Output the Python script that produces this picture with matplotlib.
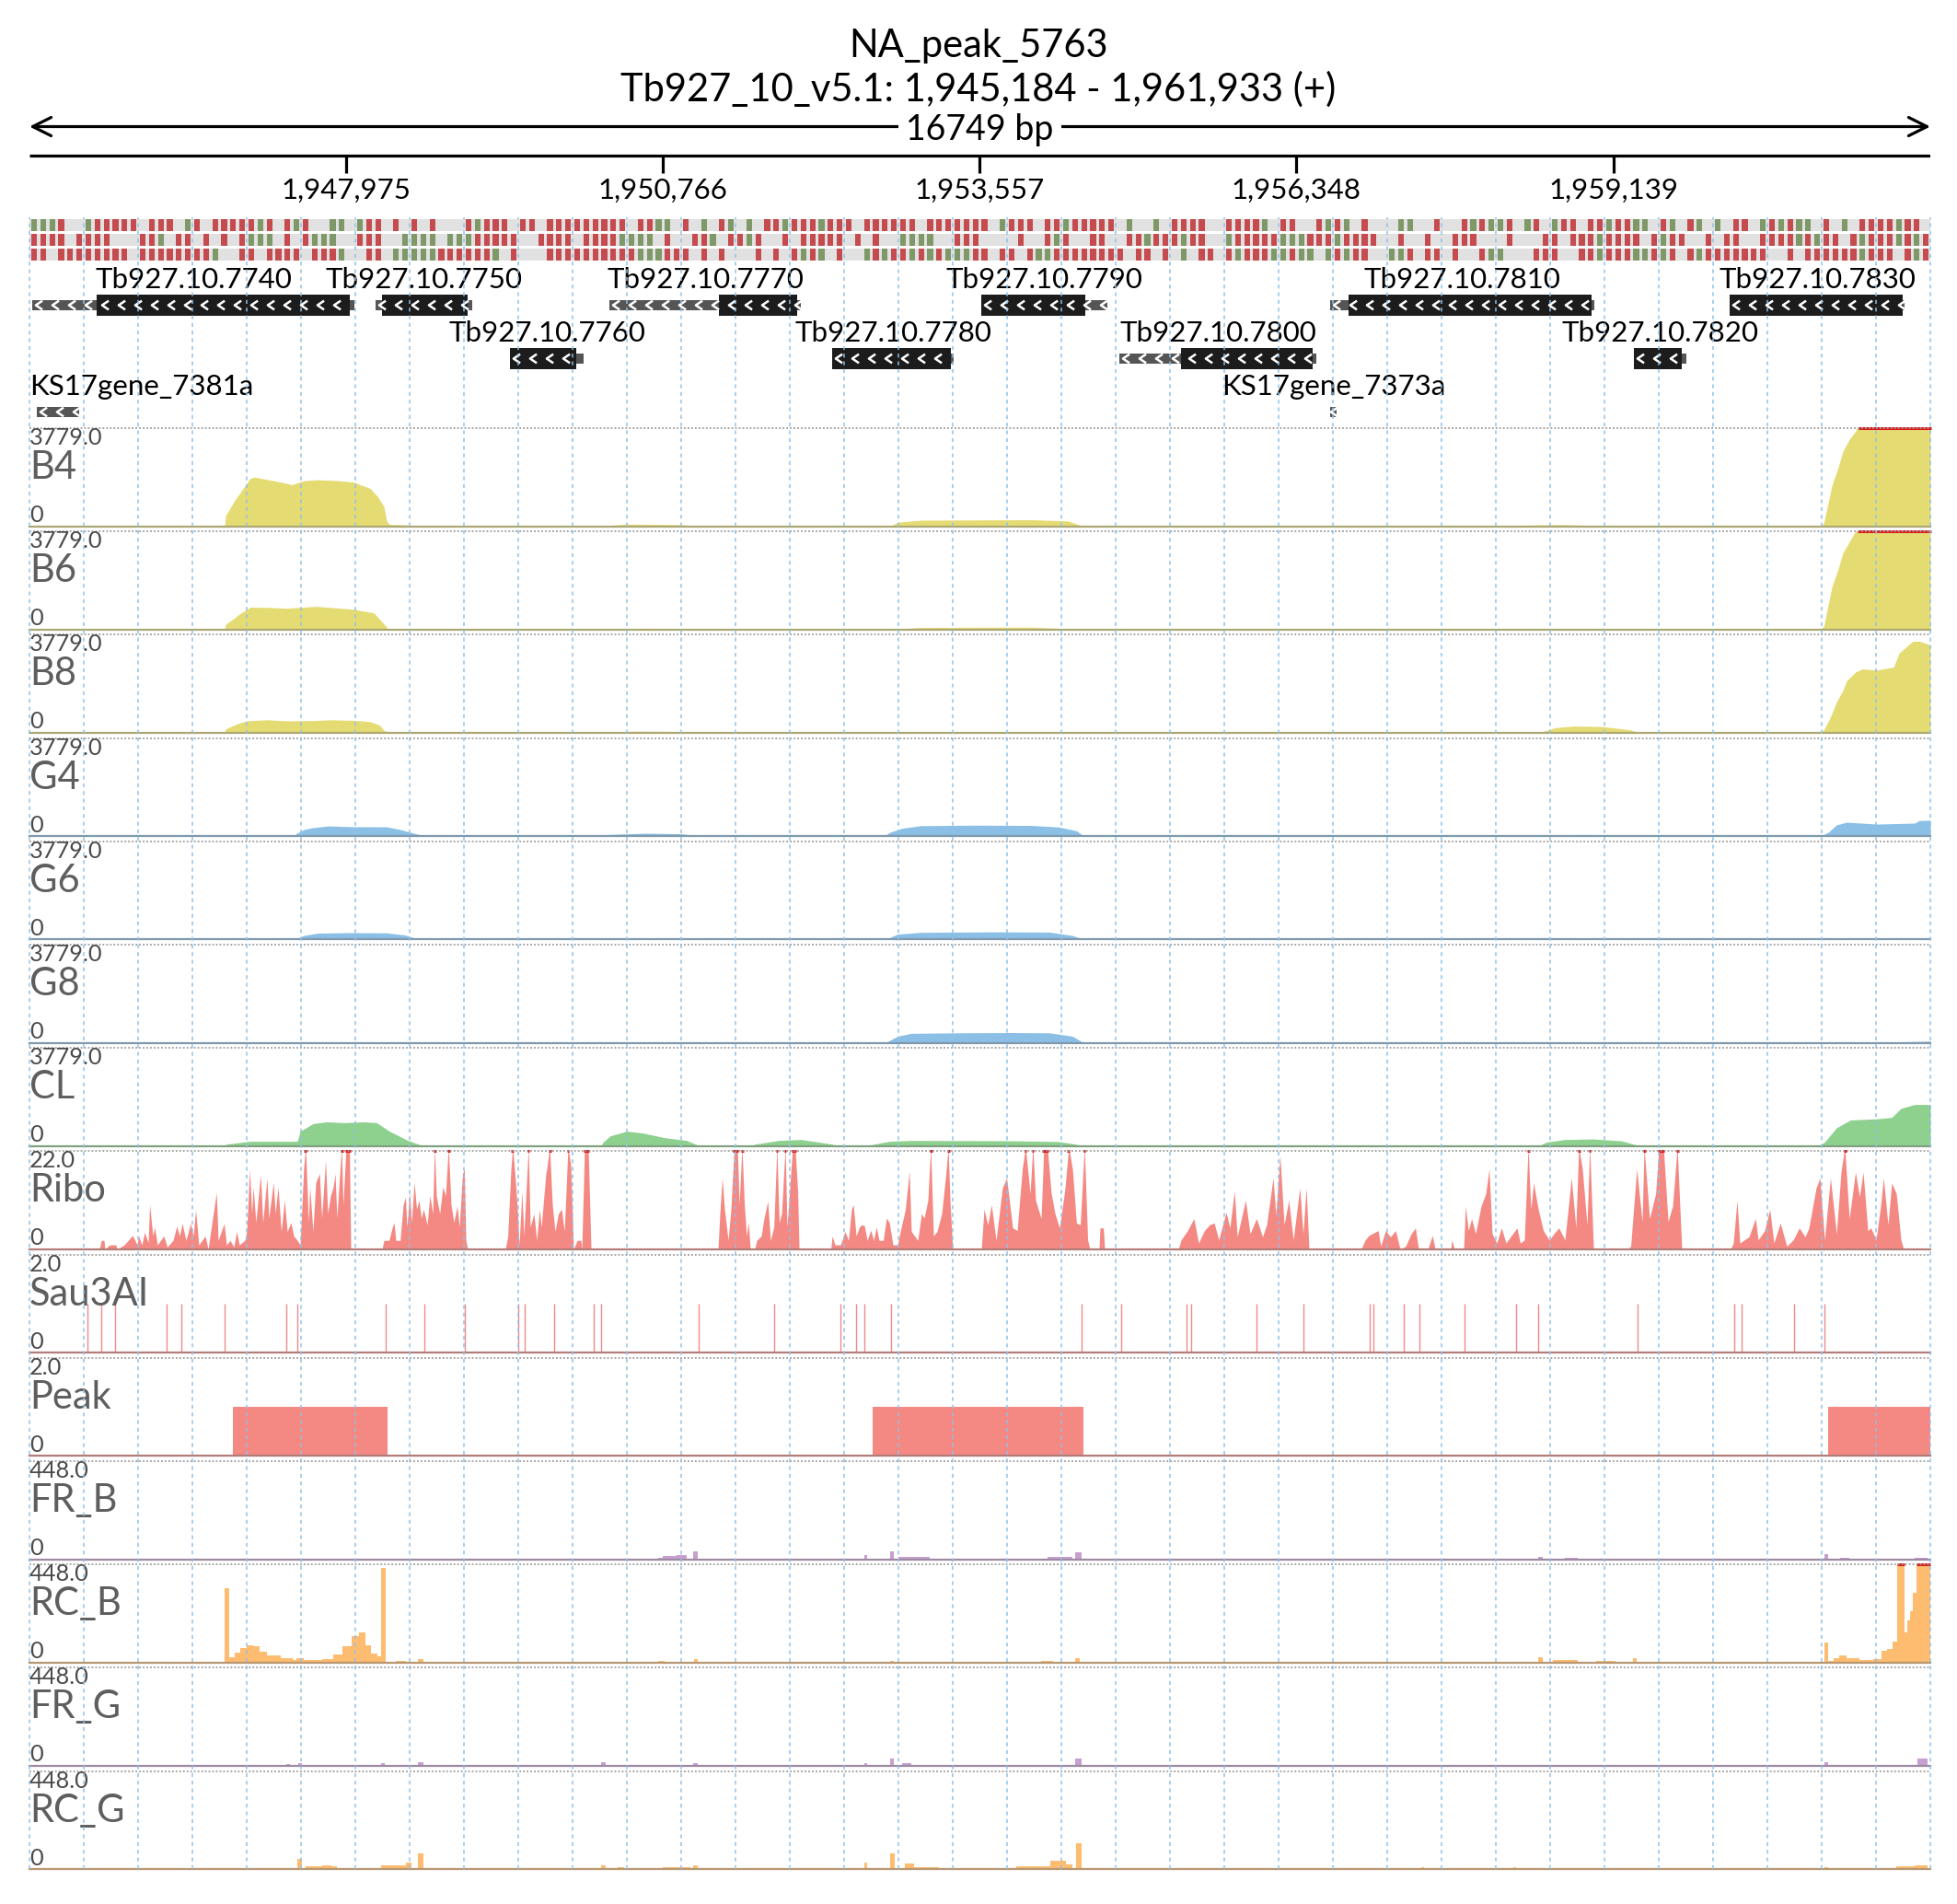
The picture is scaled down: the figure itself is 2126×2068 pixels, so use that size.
import matplotlib
matplotlib.use("Agg")
import matplotlib.pyplot as plt
import matplotlib.colors as mcolors
from matplotlib.path import Path
import numpy as np

plt.rcParams['font.family'] = ['Lato', 'DejaVu Sans']

# ---------------------------------------------------------------- data
PEAK_NAME = "NA_peak_5763"
CHROM = "Tb927_10_v5.1"
START, END = 1945184, 1961933
ruler_ticks = [1947975, 1950766, 1953557, 1956348, 1959139]

# genes: positions are bp offsets from START
gene_names = ["Tb927.10.7740", "Tb927.10.7750", "Tb927.10.7760", "Tb927.10.7770",
              "Tb927.10.7780", "Tb927.10.7790", "Tb927.10.7800", "Tb927.10.7810",
              "Tb927.10.7820", "Tb927.10.7830", "KS17gene_7381a", "KS17gene_7373a"]
gene_row = [1, 1, 2, 1, 2, 1, 2, 1, 2, 1, 3, 3]
gene_start = [24, 3050, 4234, 5110, 7073, 8387, 9603, 11461, 14137, 14981, 65, 11461]
gene_end = [2863, 3901, 4883, 6797, 8143, 9498, 11339, 13789, 14600, 16522, 438, 11518]
cds_start = [592, 3107, 4234, 6075, 7073, 8387, 10147, 11623, 14137, 14981, None, None]
cds_end = [2823, 3861, 4818, 6765, 8119, 9303, 11307, 13764, 14559, 16506, None, None]

# three frame strips, one char per 1/210 of the window (r = red, g = green)
frame_rows = [
    "gggr..grrrrr.rrr.gr.rrrrrgr.rgr..gg.grr.r.r.r...rgrrr.rr.rrrrrrrrr.r"
    "rgg.r.g.rg.g.rrgrrrgrrr.rrrrrr.rrrrrrr.grrr.rrgrrrrr.g..g.rrrr..rrrrg.r"
    "r..rgrg.r...gg..r..rgrggr.gr.grr.rrgrrgg.rg.rg.g.rr.grgrgg.r.g.rrrrgrr.",
    "rrrr.rrrr...rrg.rr.r.r.rggg.r.rggg..rrr..gggg.gggrrrrr..rrrr.rrrrggg"
    "g.r..rrg.rrgr..r.rrrrr.r.r..gggg..rrr....r..rgr..rr..rrgrrrgrr..grrrrrg"
    "ggrrrgrrrr..r..r..rrr...r...rr.rrrgrrrr.rgrr..r.rr..rrrrgrgrr.rgrrrgrgr",
    "rr.rrrrrrrr.rrrrrrrrg..rr.rrrr.rrrg..rr.gggggrrrrrrg.r...rrrrrrrrrrg"
    "ggrrr.r.r...r.r.rgrg.r..grgrrgrgrgggrr.rr.rggrrrrrrrr.rr.r.g.rr.rgrrrgg"
    "rgg.grgrr..ggr.rr.r..rgg...rrr..rrgrrrggrgr.rgrrrrrrr..r.rrrrrrgrrr.rgr",
]

# coverage profiles: (bp offset, value)
b4 = [(1720, 0), (1728, 400), (1809, 1000), (1890, 1500), (1947, 1850), (1987, 1890), (2093, 1800),
      (2214, 1700), (2312, 1600), (2417, 1750), (2531, 1790), (2701, 1760), (2855, 1700), (2944, 1550),
      (3001, 1460), (3066, 1150), (3123, 750), (3147, 200), (3171, 70), (3309, 50), (3472, 20), (3512, 0),
      (5021, 0), (5256, 80), (5743, 60), (5905, 0),
      (7584, 0), (7649, 150), (7852, 230), (8338, 240), (8825, 250), (9149, 200), (9287, 0),
      (12718, 0), (13294, 50), (13529, 60), (13724, 30), (14251, 30), (14503, 40), (14697, 20), (15152, 0),
      (15760, 0), (15809, 100), (15882, 1570), (15938, 2280), (15979, 2890), (16036, 3350), (16092, 3670),
      (16125, 4000), (16749, 4000)]
b6 = [(1720, 0), (1728, 200), (1809, 450), (1841, 570), (1947, 860), (2093, 850), (2271, 820), (2531, 890),
      (2855, 780), (3034, 640), (3123, 214), (3163, 0),
      (5021, 0), (5418, 50), (5905, 0), (7584, 0), (7852, 80), (8825, 90), (9287, 0),
      (12718, 0), (13529, 25), (14697, 0),
      (15760, 0), (15809, 100), (15882, 1640), (15938, 2350), (15979, 2960), (16060, 3560),
      (16117, 4000), (16749, 4000)]
b8 = [(1720, 0), (1728, 150), (1833, 350), (1914, 460), (2093, 500), (2271, 460), (2498, 470), (2636, 500),
      (2855, 480), (3001, 430), (3082, 300), (3123, 100), (3163, 0),
      (5021, 0), (5337, 60), (5743, 50), (5905, 0), (6270, 0), (6473, 20), (6635, 0),
      (7584, 0), (8257, 30), (9287, 0),
      (13294, 0), (13448, 200), (13610, 260), (13854, 240), (14097, 120), (14194, 0),
      (15760, 0), (15809, 100), (15865, 570), (15922, 1180), (15979, 1640), (16011, 2000), (16092, 2350),
      (16149, 2460), (16279, 2420), (16425, 2530), (16474, 3070), (16539, 3320), (16595, 3530),
      (16652, 3530), (16749, 3390)]
g4 = [(1444, 0), (1768, 20), (2336, 30), (2352, 100), (2417, 250), (2490, 321), (2636, 390), (2855, 360),
      (3147, 357), (3269, 250), (3358, 143), (3488, 0),
      (4932, 0), (5094, 60), (5418, 110), (5743, 90), (5905, 0),
      (7527, 0), (7584, 150), (7689, 300), (7852, 400), (8338, 420), (8825, 410), (9068, 350),
      (9230, 200), (9287, 0),
      (10123, 0), (11096, 15), (12718, 20), (13351, 40), (13692, 60), (14024, 40), (14340, 0),
      (15760, 0), (15809, 60), (15849, 143), (15922, 430), (16011, 535), (16279, 463), (16612, 500),
      (16652, 600), (16749, 610)]
g6 = [(2336, 0), (2417, 150), (2539, 240), (2823, 260), (3147, 250), (3309, 170), (3431, 0),
      (5013, 0), (5418, 40), (5905, 0),
      (7543, 0), (7649, 200), (7852, 270), (8500, 290), (8987, 280), (9190, 150), (9287, 0),
      (12232, 0), (12556, 50), (12962, 0),
      (15800, 0), (15963, 30), (16749, 40)]
g8 = [(2336, 0), (2823, 30), (3431, 0), (5013, 0), (5418, 30), (5905, 0),
      (7543, 0), (7649, 250), (7770, 360), (8176, 380), (8663, 390), (8987, 380), (9190, 250), (9287, 0),
      (15800, 0), (16449, 30), (16749, 60)]
cl = [(1711, 0), (1736, 70), (1939, 180), (2360, 180), (2385, 570), (2498, 860), (2612, 930), (2774, 900),
      (2944, 930), (3058, 900), (3171, 570), (3334, 214), (3472, 0),
      (5037, 0), (5053, 143), (5118, 392), (5264, 570), (5402, 500), (5597, 320), (5791, 214), (5905, 0),
      (6367, 0), (6392, 70), (6602, 214), (6797, 250), (7073, 71), (7130, 0),
      (7357, 0), (7576, 180), (7770, 214), (8663, 200), (9068, 170), (9230, 60), (9287, 0),
      (10934, 0), (11096, 30), (11218, 0),
      (13294, 0), (13367, 150), (13529, 250), (13773, 270), (14024, 200), (14194, 0),
      (15760, 0), (15817, 150), (15922, 700), (16044, 1000), (16287, 1050), (16409, 1100), (16490, 1450),
      (16612, 1600), (16749, 1600)]

# ribosome profiling (values above 22 are clipped)
ribo = [(616, 0), (633, 2), (657, 2), (665, 0), (706, 1), (762, 1), (771, 0),
        (835, 1), (908, 3.1), (949, 1), (961, 3), (990, 1), (1014, 3.8), (1046, 1.5), (1059, 10), (1087, 3),
        (1103, 5), (1127, 1), (1184, 3), (1213, 0.5), (1265, 2), (1298, 5.2), (1322, 3), (1346, 5.8),
        (1379, 2), (1419, 5.8), (1444, 3), (1464, 8.9), (1492, 1), (1549, 3), (1574, 0), (1647, 12.7),
        (1663, 2), (1715, 5.8), (1736, 1), (1768, 2), (1801, 0.5), (1825, 4), (1849, 1), (1898, 2),
        (1914, 4), (1939, 17.9), (1959, 8), (1971, 14), (1995, 6), (2036, 16.8), (2056, 6), (2093, 16),
        (2109, 7), (2149, 15), (2166, 8), (2190, 14), (2218, 4), (2247, 11), (2271, 4), (2304, 6),
        (2328, 3), (2360, 2), (2385, 1), (2417, 18.6), (2433, 23), (2458, 6), (2470, 14), (2498, 4),
        (2523, 15), (2555, 17), (2575, 7), (2609, 20), (2628, 8), (2652, 12), (2677, 14), (2693, 17),
        (2709, 7), (2733, 16.5), (2750, 23), (2763, 10), (2790, 23), (2819, 23), (2831, 0),
        (3107, 0), (3123, 2), (3168, 2), (3196, 4.8), (3212, 6), (3228, 2), (3266, 2), (3293, 10),
        (3313, 11.7), (3326, 5), (3350, 13), (3366, 6), (3390, 15), (3411, 9), (3431, 11), (3453, 7),
        (3472, 9), (3504, 5.5), (3528, 12), (3553, 8), (3569, 23), (3585, 12), (3615, 8), (3642, 14),
        (3666, 12), (3691, 23), (3715, 10), (3739, 6), (3768, 9.7), (3788, 5), (3816, 17), (3832, 18),
        (3845, 2), (3861, 0),
        (4193, 0), (4215, 3), (4242, 18), (4258, 23), (4283, 15), (4299, 9), (4315, 1), (4339, 13),
        (4356, 3), (4396, 23), (4412, 5), (4445, 8), (4469, 2), (4494, 9), (4510, 5), (4550, 17),
        (4558, 18), (4583, 23), (4607, 10), (4631, 4), (4660, 8), (4688, 9), (4713, 4), (4745, 23),
        (4769, 19), (4794, 0), (4826, 2), (4858, 2), (4867, 0), (4891, 23), (4923, 23), (4948, 0),
        (6067, 0), (6083, 8), (6104, 16), (6124, 9), (6156, 2), (6181, 9), (6210, 23), (6237, 23),
        (6254, 10), (6278, 23), (6299, 10), (6318, 3), (6335, 6), (6351, 0),
        (6391, 0), (6408, 2), (6448, 3), (6473, 7), (6505, 10.8), (6529, 2), (6559, 5), (6586, 23),
        (6606, 6), (6627, 8), (6659, 23), (6675, 5), (6700, 14), (6724, 23), (6746, 23), (6769, 13),
        (6781, 0),
        (7061, 0), (7073, 3), (7097, 1), (7146, 1), (7186, 4), (7216, 2), (7243, 9), (7259, 10),
        (7284, 3), (7313, 5), (7332, 5.5), (7357, 5.3), (7381, 2), (7413, 4.3), (7438, 2), (7462, 5),
        (7486, 2), (7523, 2), (7551, 7), (7576, 6), (7608, 1), (7649, 1), (7673, 4), (7718, 9),
        (7752, 17.5), (7770, 4), (7827, 2), (7860, 8), (7884, 7), (7916, 11), (7941, 23), (7965, 3),
        (7997, 4), (8038, 8), (8075, 17), (8095, 23), (8111, 11), (8135, 0),
        (8387, 0), (8411, 9), (8444, 5.5), (8476, 10), (8517, 2), (8573, 13.8), (8610, 16), (8663, 4.8),
        (8703, 4.2), (8748, 18), (8776, 23), (8817, 12.5), (8841, 23), (8865, 11), (8914, 6.9),
        (8938, 23), (8968, 23), (9003, 12.5), (9036, 8), (9076, 4.8), (9122, 13.1), (9157, 23),
        (9190, 18), (9225, 5.9), (9259, 5.5), (9295, 23), (9324, 2.1), (9344, 0), (9425, 0),
        (9433, 4.8), (9462, 4.8), (9474, 0),
        (10123, 0), (10147, 2.1), (10204, 4.2), (10260, 6.9), (10301, 1.4), (10353, 4.2), (10398, 5.5),
        (10439, 5.9), (10479, 2.1), (10544, 8.3), (10577, 4.8), (10617, 13.1), (10642, 2.8), (10715, 11),
        (10755, 3.5), (10812, 6.9), (10865, 2.8), (10901, 5.5), (10958, 16), (10982, 7.6), (11019, 21.1),
        (11055, 5.5), (11096, 11), (11136, 2.1), (11193, 13.8), (11222, 3.5), (11250, 13.8), (11274, 0),
        (11733, 0), (11769, 2.1), (11802, 3.1), (11883, 4.2), (11907, 0.7), (11948, 4.2), (11992, 2.8),
        (12037, 4.2), (12077, 0), (12126, 0.7), (12175, 3.5), (12212, 4.8), (12240, 0), (12321, 0),
        (12361, 3.1), (12386, 0),
        (12523, 0), (12532, 2.1), (12556, 0), (12637, 0), (12653, 9.7), (12678, 4.2), (12707, 6.9),
        (12742, 3.5), (12791, 9.7), (12832, 12.5), (12861, 18), (12888, 3.5), (12929, 1.4), (12970, 4.8),
        (13010, 1.4), (13107, 4.8), (13136, 1.4), (13172, 2.1), (13205, 23), (13229, 9), (13253, 14.9),
        (13294, 9), (13339, 4.2), (13391, 2.1), (13432, 3.5), (13476, 4.8), (13529, 2.1), (13562, 10),
        (13586, 16), (13626, 4.8), (13651, 23), (13683, 18), (13724, 5.5), (13748, 23), (13781, 0),
        (14081, 0), (14109, 0.7), (14162, 18), (14210, 6.2), (14227, 23), (14275, 6.9), (14329, 12.5),
        (14357, 23), (14397, 23), (14438, 6.2), (14478, 9.7), (14519, 23), (14559, 0),
        (14989, 0), (15013, 1.4), (15046, 11), (15070, 1.4), (15151, 2.8), (15208, 6.9), (15232, 2.1),
        (15289, 4.2), (15335, 9), (15370, 1.4), (15427, 5.9), (15484, 0.7), (15541, 2.1), (15594, 4.8),
        (15646, 2.8), (15679, 4.8), (15743, 13.8), (15776, 16), (15817, 2.1), (15869, 16), (15922, 3.5),
        (15962, 17.3), (15995, 23), (16035, 6.9), (16089, 17.3), (16125, 11.8), (16157, 17.3),
        (16198, 4.2), (16226, 4.8), (16271, 2.1), (16311, 9.7), (16336, 16), (16376, 5.5), (16409, 14.9),
        (16449, 12.5), (16490, 2.1), (16514, 0)]

sau3ai_sites = [511, 633, 754, 1209, 1338, 1720, 2259, 2358, 3139, 3480, 3837, 4307, 4360, 4624, 4972,
                5037, 5897, 6562, 7142, 7280, 7357, 7588, 9271, 9616, 10199, 10232, 10810, 11226, 11810,
                11842, 12110, 12248, 12641, 13099, 13294, 14170, 15022, 15087, 15549, 15813]
peak_regions = [(1793, 3155), (7430, 9287), (15849, 16749)]

# read-end counts: (start, end, value)
fr_b = [(5540, 5580, 6), (5580, 5702, 14), (5702, 5791, 18), (5848, 5889, 34), (7357, 7381, 17),
        (7584, 7616, 34), (7657, 7933, 12), (8971, 9190, 12), (9214, 9271, 30), (13294, 13335, 10),
        (13529, 13643, 6), (15817, 15849, 22), (15954, 16035, 7), (16612, 16725, 6)]
rc_b = [(1720, 1760, 339), (1760, 1809, 24), (1809, 1857, 45), (1857, 1914, 66), (1914, 1971, 80),
        (1971, 2028, 75), (2028, 2093, 50), (2093, 2214, 31), (2214, 2320, 21), (2320, 2352, 10),
        (2352, 2417, 20), (2417, 2579, 13), (2579, 2677, 17), (2677, 2758, 38), (2758, 2839, 73),
        (2839, 2904, 122), (2904, 2960, 136), (2960, 3009, 80), (3009, 3066, 40), (3066, 3098, 30),
        (3098, 3139, 433), (3228, 3317, 6), (3423, 3472, 17), (5540, 5597, 6), (5856, 5889, 17),
        (7584, 7616, 6), (8914, 9019, 6), (9214, 9255, 20), (13294, 13335, 24), (13424, 13643, 13),
        (13805, 13975, 7), (14129, 14162, 20), (15817, 15849, 91), (15849, 15898, 6), (15898, 15946, 21),
        (15946, 16011, 31), (16011, 16125, 21), (16125, 16246, 12), (16246, 16319, 17), (16319, 16368, 52),
        (16368, 16417, 63), (16417, 16457, 94), (16457, 16522, 500), (16522, 16546, 136),
        (16546, 16571, 192), (16571, 16595, 234), (16595, 16627, 318), (16627, 16749, 500)]
fr_g = [(2263, 2295, 8), (2368, 2401, 11), (2490, 2709, 4), (3098, 3131, 11), (3423, 3472, 15),
        (5037, 5077, 17), (5191, 5337, 4), (5848, 5889, 11), (7357, 7381, 11), (7584, 7616, 32),
        (7689, 7770, 13), (8800, 9190, 4), (9214, 9271, 32), (15817, 15849, 17), (15962, 16011, 4),
        (16636, 16725, 32)]
rc_g = [(2360, 2401, 45), (2433, 2709, 14), (2579, 2660, 17), (3098, 3317, 17), (3317, 3366, 28),
        (3423, 3472, 70), (5037, 5077, 18), (5183, 5240, 7), (5580, 5824, 7), (5848, 5889, 18),
        (7357, 7381, 31), (7584, 7624, 74), (7714, 7795, 25), (7795, 8014, 10), (8695, 8995, 15),
        (8995, 9133, 38), (9133, 9190, 20), (9222, 9271, 119), (12264, 12288, 9), (12759, 12929, 5),
        (13075, 13099, 10), (15817, 15849, 9), (16449, 16612, 12), (16612, 16725, 16)]

YELLOW, BLUE, GREEN = '#e5db73', '#8bbfe6', '#8ed08e'
RED, PURPLE, ORANGE = '#f48882', '#c79fd0', '#fdbc6f'
CLIP = '#dd1a1a'

tracks = [
    ("B4", 3779.0, "area", b4, YELLOW),
    ("B6", 3779.0, "area", b6, YELLOW),
    ("B8", 3779.0, "area", b8, YELLOW),
    ("G4", 3779.0, "area", g4, BLUE),
    ("G6", 3779.0, "area", g6, BLUE),
    ("G8", 3779.0, "area", g8, BLUE),
    ("CL", 3779.0, "area", cl, GREEN),
    ("Ribo", 22.0, "area", ribo, RED),
    ("Sau3AI", 2.0, "sites", sau3ai_sites, RED),
    ("Peak", 2.0, "regions", peak_regions, RED),
    ("FR_B", 448.0, "bars", fr_b, PURPLE),
    ("RC_B", 448.0, "bars", rc_b, ORANGE),
    ("FR_G", 448.0, "bars", fr_g, PURPLE),
    ("RC_G", 448.0, "bars", rc_g, ORANGE),
]

# ---------------------------------------------------------------- layout
W, H = 2126, 2068
X0, X1 = 32, 2097
fig = plt.figure(figsize=(W / 100, H / 100), dpi=100)
fig.patch.set_facecolor('white')


def px_axes(top, height):
    ax = fig.add_axes([X0 / W, 1 - (top + height) / H, (X1 - X0) / W, height / H])
    ax.set_xlim(START, END)
    ax.axis('off')
    return ax


def shade(c, f=0.5):
    rgb = np.array(mcolors.to_rgb(c))
    return tuple(rgb * f + 0.45 * (1 - f))


# titles
fig.text(0.5, 1 - 62 / H, PEAK_NAME, ha='center', va='baseline', fontsize=30)
fig.text(0.5, 1 - 110 / H, f"{CHROM}: {START:,} - {END:,} (+)", ha='center', va='baseline', fontsize=30)

# ruler
rax = px_axes(118, 112)
rax.set_ylim(230, 118)
rax.annotate('', xy=(START, 137.5), xytext=(END, 137.5),
             arrowprops=dict(arrowstyle='<->', lw=2.3, color='black', shrinkA=0, shrinkB=0,
                             mutation_scale=36))
rax.text((START + END) / 2, 152, f"{END - START} bp", ha='center', va='baseline', fontsize=27,
         bbox=dict(fc='white', ec='none', pad=6))
rax.plot([START, END], [169, 169], color='black', lw=2.3, solid_capstyle='butt')
rax.vlines(ruler_ticks, 169, 188, color='black', lw=2.3)
for t in ruler_ticks:
    rax.text(t, 216, f"{t:,}", ha='center', va='baseline', fontsize=22.5)

# frame strips
sax = px_axes(238, 45)
sax.set_ylim(45, 0)
binw = (END - START) / len(frame_rows[0])
strip_col = {'r': '#c23b3f', 'g': '#73915a'}
for r, row in enumerate(frame_rows):
    top = r * 16
    sax.bar(START, 13, width=END - START, bottom=top, align='edge', color='#e1e1e1', lw=0)
    ks = [k for k, ch in enumerate(row) if ch != '.']
    sax.bar([START + (k + 0.2) * binw for k in ks], 13, width=binw * 0.62, bottom=top, align='edge',
            color=[strip_col[row[k]] for k in ks], lw=0, alpha=0.9)

# genes
gax = px_axes(290, 175)
gax.set_ylim(465, 290)
row_y = {1: 331, 2: 389, 3: 447}
chev = Path([(0.37, 0.5), (-0.37, 0.0), (0.37, -0.5)], [Path.MOVETO, Path.LINETO, Path.LINETO])
gene_texts = []
for name, row, gs, ge, cs, ce in zip(gene_names, gene_row, gene_start, gene_end, cds_start, cds_end):
    cy = row_y[row]
    gs, ge = START + gs, START + ge
    gax.barh(cy, ge - gs, left=gs, height=11, color='#555555', lw=0)
    if cs is not None:
        gax.barh(cy, ce - cs, left=START + cs, height=23, color='#1c1c1c', lw=0)
    xs = np.arange(gs + 57, ge - 20, 146)
    if len(xs) == 0:
        xs = [(gs + ge) / 2]
    gax.plot(xs, [cy] * len(xs), ls='none', marker=chev, ms=7, mew=1.8, mec='white', mfc='none')
    gene_texts.append(gax.text((gs + ge) / 2, cy - 18, name, ha='center', va='baseline', fontsize=22.5))

# data tracks
TOP0, STEP, TH = 465, 112.2, 106.5
for i, (name, vmax, kind, data, color) in enumerate(tracks):
    ax = px_axes(TOP0 + i * STEP, TH)
    ax.set_ylim(0, vmax)
    if kind == "area":
        xs = [START + p for p, v in data]
        vs = [v for p, v in data]
        ax.fill_between(xs, vs, color=color, lw=0)
        pad = 12
        run = []
        for x, v in zip(xs + [None], vs + [0]):
            if v > vmax:
                run.append(x)
            elif run:
                ax.hlines(vmax, run[0] - pad, run[-1] + pad, colors=CLIP, lw=2.2, clip_on=False)
                run = []
    elif kind == "bars":
        ax.bar([START + s for s, e, v in data], [v for s, e, v in data],
               width=[e - s for s, e, v in data], align='edge', color=color, lw=0)
        for s, e, v in data:
            if v > vmax:
                ax.hlines(vmax, START + s, START + e, colors=CLIP, lw=2.2, clip_on=False)
    elif kind == "sites":
        ax.vlines([START + p for p in data], 0, 1.0, colors='#f08a8a', lw=1.0)
    elif kind == "regions":
        ax.bar([START + s for s, e in data], 1.0, width=[e - s for s, e in data], align='edge',
               color=color, lw=0)
    ax.axhline(0, color=shade(color), lw=1.6, clip_on=False)
    ax.axhline(vmax, color='#9c9c9c', lw=1.3, ls=(0, (1, 1.2)), clip_on=False)
    ax.text(0.0, 1 - 18 / TH, f"{vmax:.1f}", transform=ax.transAxes, va='baseline', fontsize=18.3,
            color='#4a4a4a')
    ax.text(0.0, 1 - 55 / TH, name, transform=ax.transAxes, va='baseline', fontsize=30,
            color='#5e5e5e')
    ax.text(0.0, 1 - 102 / TH, "0", transform=ax.transAxes, va='baseline', fontsize=18.3,
            color='#4a4a4a')

# dotted column grid
grid_ax = px_axes(236, 2030 - 236)
grid_ax.set_ylim(0, 1)
grid_ax.vlines(START + np.arange(36) * (END - START) / 35, 0, 1, colors='#8fc1ea', lw=1.2,
               linestyles=(0, (2.5, 2.5)), alpha=0.9, clip_on=False)

# keep gene labels inside the panel
fig.canvas.draw()
renderer = fig.canvas.get_renderer()
for t in gene_texts:
    if t.get_window_extent(renderer).x0 < X0:
        t.set_ha('left')
        t.set_x(START)

fig.savefig('out.png', dpi=100, facecolor='white')
